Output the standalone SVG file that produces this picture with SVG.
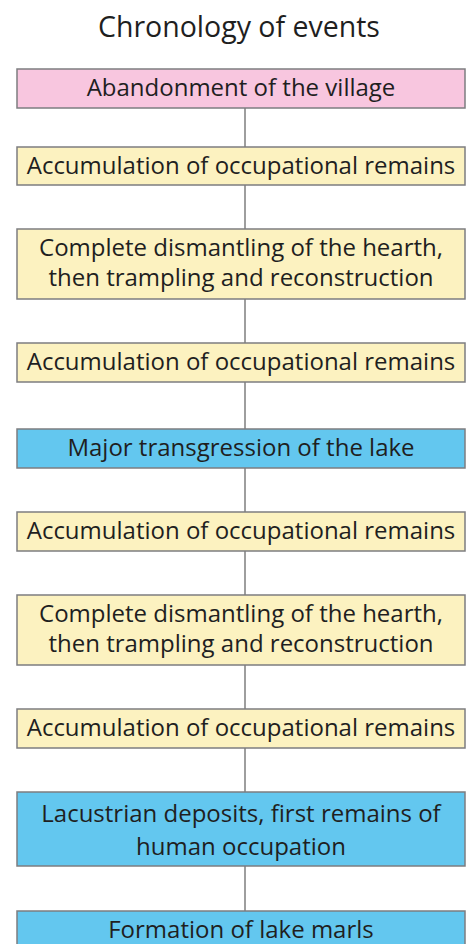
<svg xmlns="http://www.w3.org/2000/svg" width="468" height="944" viewBox="0 0 468 944">
<style>
.box{stroke:#7d7d80;stroke-width:1.5}
.pink{fill:#f8c6df}
.yel{fill:#fcf2c0}
.blue{fill:#63c7ef}
.t{font-family:"Open Sans","Noto Sans","Liberation Sans",sans-serif;font-size:24px;fill:#1f1f1f;text-anchor:middle}
.title{font-family:"Open Sans","Noto Sans","Liberation Sans",sans-serif;font-size:28.5px;fill:#1f1f1f;text-anchor:middle}
.c{stroke:#6a6a6a;stroke-width:1.3;fill:none}
</style>
<rect width="468" height="944" fill="#ffffff"/>
<text class="title" x="239" y="37">Chronology of events</text>
<g id="connectors">
<line class="c" x1="245" y1="108" x2="245" y2="147"/>
<line class="c" x1="245" y1="185" x2="245" y2="229"/>
<line class="c" x1="245" y1="299" x2="245" y2="343"/>
<line class="c" x1="245" y1="382" x2="245" y2="429"/>
<line class="c" x1="245" y1="468" x2="245" y2="512"/>
<line class="c" x1="245" y1="551" x2="245" y2="595"/>
<line class="c" x1="245" y1="665" x2="245" y2="709"/>
<line class="c" x1="245" y1="748" x2="245" y2="792"/>
<line class="c" x1="245" y1="866" x2="245" y2="911"/>
</g>
<g id="n1"><rect class="box pink" x="17" y="69" width="448" height="39"/><text class="t" x="241" y="96">Abandonment of the village</text></g>
<g id="n2"><rect class="box yel" x="17" y="147" width="448" height="38"/><text class="t" x="241" y="174">Accumulation of occupational remains</text></g>
<g id="n3"><rect class="box yel" x="17" y="229" width="448" height="70"/><text class="t" x="241" y="256">Complete dismantling of the hearth,</text><text class="t" x="241" y="286">then trampling and reconstruction</text></g>
<g id="n4"><rect class="box yel" x="17" y="343" width="448" height="39"/><text class="t" x="241" y="370">Accumulation of occupational remains</text></g>
<g id="n5"><rect class="box blue" x="17" y="429" width="448" height="39"/><text class="t" x="241" y="456">Major transgression of the lake</text></g>
<g id="n6"><rect class="box yel" x="17" y="512" width="448" height="39"/><text class="t" x="241" y="539">Accumulation of occupational remains</text></g>
<g id="n7"><rect class="box yel" x="17" y="595" width="448" height="70"/><text class="t" x="241" y="622">Complete dismantling of the hearth,</text><text class="t" x="241" y="652">then trampling and reconstruction</text></g>
<g id="n8"><rect class="box yel" x="17" y="709" width="448" height="39"/><text class="t" x="241" y="736">Accumulation of occupational remains</text></g>
<g id="n9"><rect class="box blue" x="17" y="792" width="448" height="74"/><text class="t" x="241" y="822">Lacustrian deposits, first remains of</text><text class="t" x="241" y="855">human occupation</text></g>
<g id="n10"><rect class="box blue" x="17" y="911" width="448" height="40"/><text class="t" x="241" y="938">Formation of lake marls</text></g>
</svg>
